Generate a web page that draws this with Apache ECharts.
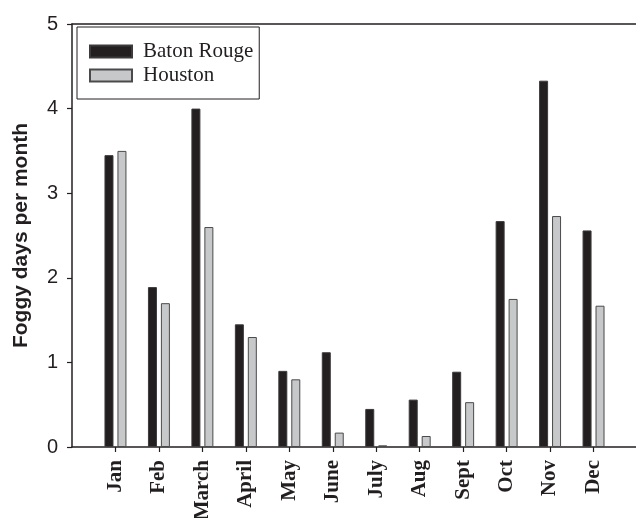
<!DOCTYPE html>
<html>
<head>
<meta charset="utf-8">
<script src="https://cdn.jsdelivr.net/npm/echarts@6/dist/echarts.min.js"></script>
<style>
  html, body { margin: 0; padding: 0; background: #fff; }
  #chart { width: 636px; height: 518px; }
</style>
</head>
<body>
<div id="chart"></div>
<script>
// Monthly average number of foggy days
const months = ['Jan', 'Feb', 'March', 'April', 'May', 'June', 'July', 'Aug', 'Sept', 'Oct', 'Nov', 'Dec'];
const batonRouge = [3.45, 1.89, 4.00, 1.45, 0.90, 1.12, 0.45, 0.56, 0.89, 2.67, 4.33, 2.56];
const houston = [3.50, 1.70, 2.60, 1.30, 0.80, 0.17, 0.02, 0.13, 0.53, 1.75, 2.73, 1.67];
const yTicks = [0, 1, 2, 3, 4, 5];

// Months sit at positions 1..12 on a 0..13 value axis
const positions = months.map((m, i) => i + 1);
const pairs = vals => vals.map((v, i) => [positions[i], v]);

const ink = '#231f20';
const chart = echarts.init(document.getElementById('chart'), null, { renderer: 'canvas' });

chart.setOption({
  animation: false,
  backgroundColor: '#fff',
  grid: { left: 72, top: 24, right: -1, bottom: 71, containLabel: false, outerBoundsMode: 'none' },
  legend: {
    orient: 'vertical',
    left: 77,
    top: 27,
    borderColor: ink,
    borderWidth: 1,
    padding: [14, 6, 13, 12],
    itemWidth: 42,
    itemHeight: 12,
    itemGap: 3,
    icon: 'rect',
    textStyle: { fontFamily: 'Liberation Serif', fontSize: 21, color: ink, padding: [0, 0, 0, 6] },
    data: ['Baton Rouge', 'Houston']
  },
  xAxis: [
    {
      type: 'value',
      min: 0,
      max: 13,
      interval: 1,
      splitLine: { show: false },
      axisLine: { show: true, lineStyle: { color: ink, width: 1.5 } },
      axisTick: { show: true, length: 5, customValues: positions, lineStyle: { color: ink, width: 1.2 } },
      axisLabel: {
        customValues: positions,
        rotate: 90,
        margin: 13,
        fontFamily: 'Liberation Serif',
        fontWeight: 'bold',
        fontSize: 21,
        color: ink,
        formatter: v => months[v - 1] || ''
      }
    },
    {
      type: 'value',
      position: 'top',
      min: 0,
      max: 13,
      splitLine: { show: false },
      axisLine: { show: true, lineStyle: { color: ink, width: 1.5 } },
      axisTick: { show: false },
      axisLabel: { show: false }
    }
  ],
  yAxis: {
    type: 'value',
    min: yTicks[0],
    max: yTicks[yTicks.length - 1],
    interval: 1,
    splitLine: { show: false },
    axisLine: { show: true, lineStyle: { color: ink, width: 1.5 } },
    axisTick: { show: true, length: 5, lineStyle: { color: ink, width: 1.2 } },
    axisLabel: { margin: 14, fontFamily: 'Liberation Sans', fontSize: 20, color: ink },
    name: 'Foggy days per month',
    nameLocation: 'middle',
    nameGap: 40,
    nameTextStyle: { fontFamily: 'Liberation Sans', fontWeight: 'bold', fontSize: 21, color: ink }
  },
  series: [
    {
      name: 'Baton Rouge',
      type: 'bar',
      barWidth: 9,
      barGap: '44%',
      itemStyle: { color: ink, borderColor: '#3c3a3a', borderWidth: 1 },
      data: pairs(batonRouge)
    },
    {
      name: 'Houston',
      type: 'bar',
      barWidth: 9,
      barGap: '44%',
      itemStyle: { color: '#c7c8ca', borderColor: '#4a4a4a', borderWidth: 1 },
      data: pairs(houston)
    }
  ]
});
</script>
</body>
</html>
